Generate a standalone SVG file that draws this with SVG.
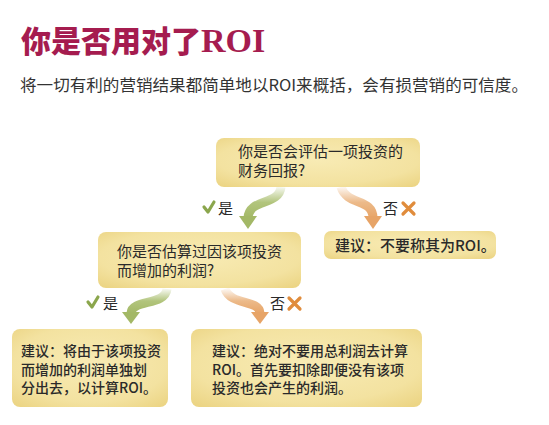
<svg xmlns="http://www.w3.org/2000/svg" width="549" height="425" viewBox="0 0 549 425">
<defs>
<radialGradient id="boxg" cx="50%" cy="45%" r="70%">
<stop offset="0" stop-color="#f8ebb4"/>
<stop offset="0.7" stop-color="#f3e2a0"/>
<stop offset="1" stop-color="#ecd585"/>
</radialGradient>
<linearGradient id="gG" x1="0" y1="0" x2="0" y2="1">
<stop offset="0" stop-color="#a9be6e" stop-opacity="0.1"/>
<stop offset="0.5" stop-color="#a9be6e" stop-opacity="0.9"/>
<stop offset="1" stop-color="#a3b866"/>
</linearGradient>
<linearGradient id="gO" x1="0" y1="0" x2="0" y2="1">
<stop offset="0" stop-color="#eab27c" stop-opacity="0.1"/>
<stop offset="0.5" stop-color="#eab27c" stop-opacity="0.9"/>
<stop offset="1" stop-color="#e7a467"/>
</linearGradient>
</defs>
<style>
.box{fill:url(#boxg)}
.t{font-family:"Noto Sans CJK SC","Liberation Sans",sans-serif;font-size:15px;fill:#2a2a2a}
.b{font-weight:500;font-size:14px}
.lbl{font-family:"Noto Sans CJK SC","Liberation Sans",sans-serif;font-size:15px;fill:#2a2a2a}
.ga{fill:none;stroke:url(#gG);stroke-width:9}
.oa{fill:none;stroke:url(#gO);stroke-width:9}
.gh{fill:#a3b866}
.oh{fill:#e7a467}
.chk{fill:none;stroke:#8ba64c;stroke-width:3.2;stroke-linecap:round;stroke-linejoin:round}
.x{fill:none;stroke:#e08c3c;stroke-width:3.2;stroke-linecap:round}
</style>
<rect width="549" height="425" fill="#ffffff"/>
<g id="title">
<text x="21" y="52" font-family="Noto Sans CJK SC,sans-serif" font-weight="900" font-size="30" fill="#a51c4f">你是否用对了<tspan font-family="Liberation Serif,serif" font-weight="bold" font-size="34">ROI</tspan></text>
</g>
<g id="subtitle">
<text x="20" y="91" font-family="Noto Sans CJK SC,Liberation Sans,sans-serif" font-size="16.4" fill="#333" textLength="508" lengthAdjust="spacingAndGlyphs">将一切有利的营销结果都简单地以ROI来概括，会有损营销的可信度。</text>
</g>
<g id="connectors">
<path class="ga" d="M281,187 C279,206 249,198 248,218"/>
<polygon class="gh" points="239,216 257,216 248,229"/>
<path class="oa" d="M341,187 C347,206 373,198 373,218"/>
<polygon class="oh" points="364,216 382,216 373,229"/>
<path class="ga" d="M167,289 C165,306 132,299 131,313"/>
<polygon class="gh" points="122,312 140,312 131,324"/>
<path class="oa" d="M225,289 C231,306 259,299 260,313"/>
<polygon class="oh" points="251,312 269,312 260,324"/>
<g id="label-yes1"><path class="chk" d="M204,207 L208,212 L214,202"/><text class="lbl" x="218" y="214">是</text></g>
<g id="label-no1"><text class="lbl" x="383" y="214">否</text><path class="x" d="M403,203 L414,214 M414,203 L403,214"/></g>
<g id="label-yes2"><path class="chk" d="M88,302 L92,307 L98,297"/><text class="lbl" x="103" y="309">是</text></g>
<g id="label-no2"><text class="lbl" x="270" y="309">否</text><path class="x" d="M289,298 L300,309 M300,298 L289,309"/></g>
</g>
<g id="q1">
<rect class="box" x="216" y="138" width="204" height="49" rx="8"/>
<text class="t" x="238" y="157">你是否会评估一项投资的</text>
<text class="t" x="238" y="176">财务回报?</text>
</g>
<g id="a1">
<rect class="box" x="324" y="231" width="172" height="28" rx="7"/>
<text class="t" x="335" y="251" font-weight="500" font-size="14.5">建议：不要称其为ROI。</text>
</g>
<g id="q2">
<rect class="box" x="98" y="232" width="203" height="56" rx="8"/>
<text class="t" x="117" y="257">你是否估算过因该项投资</text>
<text class="t" x="117" y="276">而增加的利润?</text>
</g>
<g id="a2">
<rect class="box" x="12" y="329" width="156" height="78" rx="8"/>
<text class="t b" x="21" y="356">建议：将由于该项投资</text>
<text class="t b" x="21" y="374.5">而增加的利润单独划</text>
<text class="t b" x="21" y="393">分出去，以计算ROI。</text>
</g>
<g id="a3">
<rect class="box" x="191" y="329" width="231" height="78" rx="8"/>
<text class="t b" x="212" y="356">建议：绝对不要用总利润去计算</text>
<text class="t b" x="212" y="374.5">ROI。首先要扣除即便没有该项</text>
<text class="t b" x="212" y="393">投资也会产生的利润。</text>
</g>
</svg>
